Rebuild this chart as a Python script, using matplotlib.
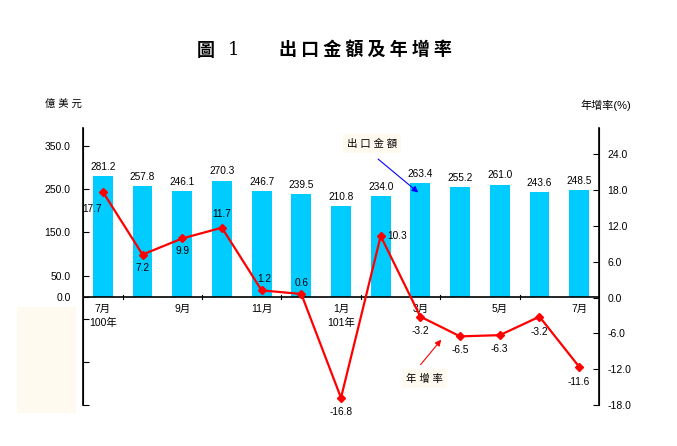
import matplotlib.pyplot as plt
from matplotlib.patches import Rectangle

plt.rcParams['font.family'] = ['Liberation Sans', 'Noto Sans CJK TC', 'DejaVu Sans']

months = ['7月', '8月', '9月', '10月', '11月', '12月', '1月', '2月', '3月', '4月', '5月', '6月', '7月']
years = {0: '100年', 6: '101年'}
exports = [281.2, 257.8, 246.1, 270.3, 246.7, 239.5, 210.8, 234.0, 263.4, 255.2, 261.0, 243.6, 248.5]
growth = [17.7, 7.2, 9.9, 11.7, 1.2, 0.6, -16.8, 10.3, -3.2, -6.5, -6.3, -3.2, -11.6]

# label offsets for the growth numbers (points)
goff = [(-8, -12), (0, -10), (0, -9), (0, 10), (2, 8), (0, 8), (0, -10),
        (12, 0), (0, -10), (0, -10), (0, -10), (0, -11), (0, -11)]

fig = plt.figure(figsize=(6.77, 4.46), dpi=100)
ax = fig.add_axes([0.1226, 0.0919, 0.7622, 0.6211])
ax2 = ax.twinx()

x = list(range(len(exports)))
ax.bar(x, exports, width=0.5, color='#00CCFF', zorder=2)
for i, v in enumerate(exports):
    ax.annotate(f'{v:.1f}', (i, v), xytext=(0, 3), textcoords='offset points',
                ha='center', va='bottom', fontsize=7.3)

ax2.plot(x, growth, color='#FF0000', lw=1.6, marker='D', markersize=4.5, zorder=3)
for i, v in enumerate(growth):
    dx, dy = goff[i]
    ax2.annotate(f'{v:.1f}', (i, v), xytext=(dx, dy), textcoords='offset points',
                 ha='center', va='center', fontsize=7.3)

ax.set_xlim(-0.5, 12.5)
ax.set_ylim(-250, 392)
ax2.set_ylim(-18, 28.4)

lt = [-250, -150, -50, 0, 50, 150, 250, 350]
ax.set_yticks(lt)
ax.set_yticklabels(['' if t < 0 else f'{t:.1f}' for t in lt], fontsize=7.5)
rt = [-18, -12, -6, 0, 6, 12, 18, 24]
ax2.set_yticks(rt)
ax2.set_yticklabels([f'{t:.1f}' for t in rt], fontsize=7.5)
ax.tick_params(axis='y', direction='in', length=4, pad=9)
ax2.tick_params(axis='y', direction='in', length=4, pad=6)

for a in (ax, ax2):
    a.spines['top'].set_visible(False)
    a.spines['bottom'].set_visible(False)
ax.spines['left'].set_linewidth(1.2)
ax2.spines['right'].set_linewidth(1.2)

ax.axhline(0, color='black', lw=1.2, zorder=4)
ax.set_xticks([])
for t in [0.5, 2.5, 4.5, 6.5, 8.5, 10.5]:
    ax.plot([t, t], [-4, 4], color='black', lw=0.8, zorder=4)

for i in range(0, 13, 2):
    ax.annotate(months[i], (i, 0), xytext=(0, -5), textcoords='offset points',
                ha='center', va='top', fontsize=7.5)
    if i in years:
        ax.annotate(years[i], (i, 0), xytext=(0, -15), textcoords='offset points',
                    ha='center', va='top', fontsize=7.5)

# callouts
ax2.text(6.78, 25.8, '出 口 金 額', ha='center', va='center', fontsize=7.5,
         bbox=dict(boxstyle='square,pad=0.4', fc='#FFFAF0', ec='none'))
ax2.annotate('', xy=(8.0, 17.3), xytext=(6.88, 23.5),
             arrowprops=dict(arrowstyle='-|>', color='#0000FF', lw=0.8, mutation_scale=9))
ax2.text(8.11, -13.6, '年 增 率', ha='center', va='center', fontsize=7.5,
         bbox=dict(boxstyle='square,pad=0.4', fc='#FFFAF0', ec='none'))
ax2.annotate('', xy=(8.57, -6.7), xytext=(7.96, -11.6),
             arrowprops=dict(arrowstyle='-|>', color='#FF0000', lw=0.8, mutation_scale=9))

# cream patch over negative left-axis region
fig.patches.append(Rectangle((17 / 677, 1 - 413 / 446), 59 / 677, 106 / 446,
                             transform=fig.transFigure, fc='#FFFAF0', ec='none'))

fig.text(45 / 677, 1 - 105 / 446, '億 美 元', fontsize=7.5, va='center', ha='left')
fig.text(580 / 677, 1 - 105 / 446, '年增率(%)', fontsize=8, va='center', ha='left')

tf = ['Noto Sans CJK TC', 'DejaVu Serif']
fig.text(206 / 677, 1 - 50 / 446, '圖', fontsize=13, fontweight='bold', family=tf,
         ha='center', va='center')
fig.text(233 / 677, 1 - 50 / 446, '1', fontsize=13, family=['DejaVu Serif'],
         ha='center', va='center')
fig.text(279 / 677, 1 - 50 / 446, '出 口 金 額 及 年 增 率', fontsize=13,
         fontweight='bold', family=tf, ha='left', va='center')

fig.savefig('out.png', dpi=100)
